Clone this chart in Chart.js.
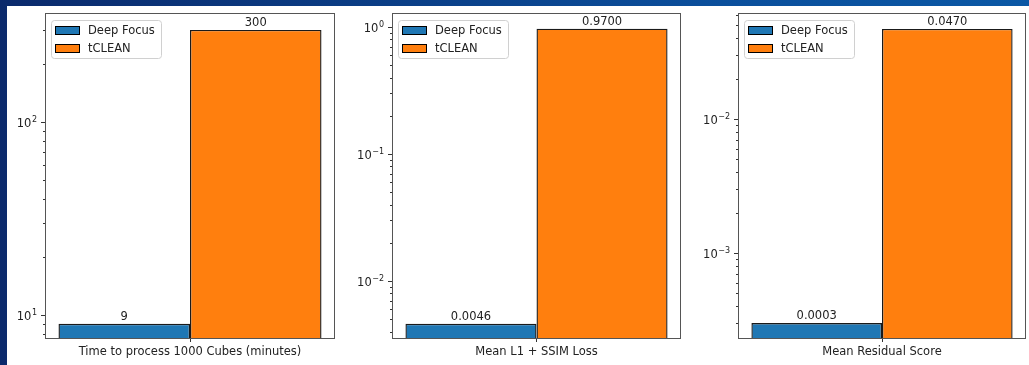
<!DOCTYPE html>
<html>
<head>
<meta charset="utf-8">
<script src="https://cdn.jsdelivr.net/npm/chart.js@4.4.1/dist/chart.umd.min.js"></script>
<style>
  html, body { margin: 0; padding: 0; }
  body {
    width: 1029px; height: 365px; overflow: hidden; position: relative;
    background: linear-gradient(to right, #0b2a6c, #0b4f9c 70%, #0b58a5);
  }
  #sheet { position: absolute; left: 7px; top: 6px; right: 0; bottom: 0; background: #fff; }
  canvas { position: absolute; top: 6px; }
</style>
</head>
<body>
<div id="sheet"></div>
<canvas id="c0" width="330" height="359"></canvas>
<canvas id="c1" width="331" height="359"></canvas>
<canvas id="c2" width="330" height="359"></canvas>
<script>
const metrics = ['Time to process 1000 Cubes (minutes)', 'Mean L1 + SSIM Loss', 'Mean Residual Score'];
const seriesNames = ['Deep Focus', 'tCLEAN'];
const deepFocus = [9, 0.0046, 0.0003];
const tclean = [300, 0.97, 0.047];
const decimals = [0, 4, 4];
const yMin = [7.6, 0.00356, 0.000232];
const yMax = [367, 1.29, 0.0618];

const colors = ['#1f77b4', '#ff7f0e'];
const plotLeft = [45, 392, 738];
const plotRight = [335, 681, 1026];

Chart.defaults.font.family = 'DejaVu Sans';
Chart.defaults.font.size = 11.5;
Chart.defaults.color = '#222';

// log ticks: every 1..9 x 10^k inside the range, decades are major
function logTicks(scale) {
  const out = [];
  const e0 = Math.floor(Math.log10(scale.min));
  const e1 = Math.ceil(Math.log10(scale.max));
  for (let e = e0; e <= e1; e++) {
    for (let m = 1; m <= 9; m++) {
      const v = m * Math.pow(10, e);
      if (v >= scale.min && v <= scale.max) out.push({ value: v, major: m === 1 });
    }
  }
  scale.ticks = out;
}

const framePlugin = {
  id: 'frame',
  afterDatasetsDraw(chart, args, opts) {
    const ctx = chart.ctx;
    const a = chart.chartArea;
    const y = chart.scales.y;
    ctx.save();
    // y tick marks and 10^n labels
    ctx.strokeStyle = '#333';
    ctx.lineWidth = 1;
    y.ticks.forEach(t => {
      const py = Math.round(y.getPixelForValue(t.value)) + 0.5;
      ctx.beginPath();
      ctx.moveTo(a.left - (t.major ? 4 : 2), py);
      ctx.lineTo(a.left, py);
      ctx.stroke();
      if (!t.major) return;
      const exp = String(Math.round(Math.log10(t.value))).replace('-', '\u2212');
      ctx.fillStyle = '#222';
      ctx.textBaseline = 'alphabetic';
      ctx.textAlign = 'right';
      ctx.font = '8px "DejaVu Sans"';
      const right = a.left - 8;
      ctx.fillText(exp, right, py - 1);
      const ew = ctx.measureText(exp).width;
      ctx.font = '11.5px "DejaVu Sans"';
      ctx.fillText('10', right - ew - 0.5, py + 4);
    });
    // axes frame
    ctx.strokeStyle = '#555';
    ctx.strokeRect(a.left + 0.5, a.top + 0.5, a.right - a.left - 1, a.bottom - a.top);

    // value labels above bars
    ctx.fillStyle = '#222';
    ctx.font = '11.5px "DejaVu Sans"';
    ctx.textAlign = 'center';
    ctx.textBaseline = 'bottom';
    chart.data.datasets.forEach((ds, i) => {
      const bar = chart.getDatasetMeta(i).data[0];
      ctx.fillText(ds.data[0].toFixed(opts.decimals), bar.x, bar.y - 1);
    });

    // legend box
    const lx = a.left + 6, ly = a.top + 7, lw = 110, lh = 38;
    ctx.beginPath();
    ctx.roundRect(lx + 0.5, ly + 0.5, lw, lh, 3);
    ctx.fillStyle = 'rgba(255,255,255,0.85)';
    ctx.fill();
    ctx.strokeStyle = '#d0d0d0';
    ctx.stroke();
    ctx.textAlign = 'left';
    ctx.textBaseline = 'middle';
    chart.data.datasets.forEach((ds, i) => {
      const cy = ly + 10 + i * 18;
      ctx.fillStyle = ds.backgroundColor;
      ctx.fillRect(lx + 4, cy - 4, 25, 9);
      ctx.strokeStyle = '#000';
      ctx.strokeRect(lx + 4.5, cy - 3.5, 24, 8);
      ctx.fillStyle = '#222';
      ctx.fillText(ds.label, lx + 37, cy + 1);
    });
    ctx.restore();
  }
};

metrics.forEach((name, k) => {
  const canvas = document.getElementById('c' + k);
  canvas.style.left = (plotLeft[k] - 40) + 'px';
  canvas.width = plotRight[k] - plotLeft[k] + 42;

  new Chart(canvas.getContext('2d'), {
    type: 'bar',
    data: {
      labels: [name],
      datasets: [
        { label: seriesNames[0], data: [deepFocus[k]], backgroundColor: colors[0] },
        { label: seriesNames[1], data: [tclean[k]], backgroundColor: colors[1] }
      ]
    },
    options: {
      responsive: false,
      animation: false,
      devicePixelRatio: 1,
      layout: { autoPadding: false, padding: { top: 7, right: 2, left: 0, bottom: 0 } },
      datasets: {
        bar: {
          borderColor: '#1a1a1a',
          borderWidth: 1.4,
          categoryPercentage: 0.907,
          barPercentage: 1
        }
      },
      plugins: {
        legend: { display: false },
        tooltip: { enabled: false },
        frame: { decimals: decimals[k] }
      },
      scales: {
        x: {
          offset: true,
          border: { display: false },
          grid: { offset: false, drawOnChartArea: false, drawTicks: true, tickLength: 4, tickColor: '#333' },
          ticks: { padding: 3, maxRotation: 0, color: '#222' },
          afterFit: s => { s.height = 27; }
        },
        y: {
          type: 'logarithmic',
          min: yMin[k],
          max: yMax[k],
          border: { display: false },
          grid: { drawOnChartArea: false, drawTicks: false },
          afterBuildTicks: logTicks,
          ticks: { display: false },
          afterFit: s => { s.width = 40; }
        }
      }
    },
    plugins: [framePlugin]
  });
});
</script>
</body>
</html>
